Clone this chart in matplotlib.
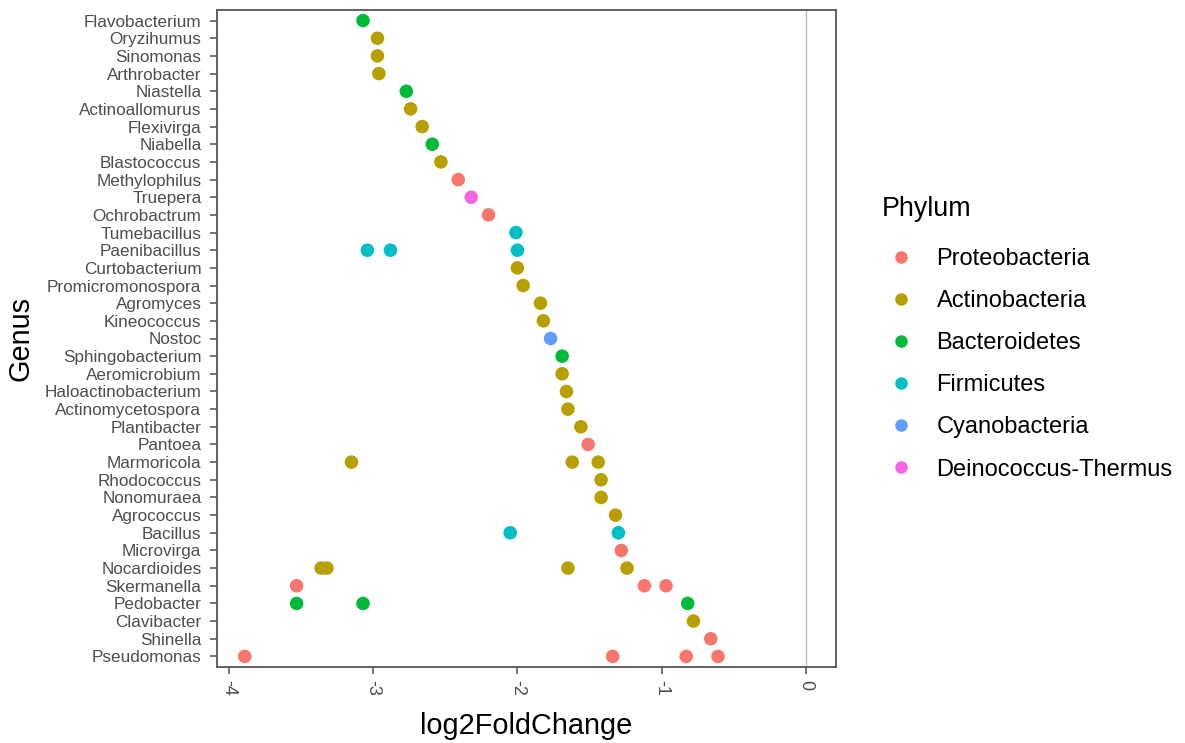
import matplotlib
matplotlib.use("Agg")
import matplotlib.pyplot as plt
from matplotlib.lines import Line2D

plt.rcParams['font.family'] = ['Liberation Sans', 'DejaVu Sans']

# genera, top to bottom as on the y axis
genus = [
    "Flavobacterium", "Oryzihumus", "Sinomonas", "Arthrobacter", "Niastella",
    "Actinoallomurus", "Flexivirga", "Niabella", "Blastococcus", "Methylophilus",
    "Truepera", "Ochrobactrum", "Tumebacillus", "Paenibacillus", "Curtobacterium",
    "Promicromonospora", "Agromyces", "Kineococcus", "Nostoc", "Sphingobacterium",
    "Aeromicrobium", "Haloactinobacterium", "Actinomycetospora", "Plantibacter",
    "Pantoea", "Marmoricola", "Rhodococcus", "Nonomuraea", "Agrococcus", "Bacillus",
    "Microvirga", "Nocardioides", "Skermanella", "Pedobacter", "Clavibacter",
    "Shinella", "Pseudomonas",
]
genus_phylum = [
    "Bacteroidetes", "Actinobacteria", "Actinobacteria", "Actinobacteria", "Bacteroidetes",
    "Actinobacteria", "Actinobacteria", "Bacteroidetes", "Actinobacteria", "Proteobacteria",
    "Deinococcus-Thermus", "Proteobacteria", "Firmicutes", "Firmicutes", "Actinobacteria",
    "Actinobacteria", "Actinobacteria", "Actinobacteria", "Cyanobacteria", "Bacteroidetes",
    "Actinobacteria", "Actinobacteria", "Actinobacteria", "Actinobacteria",
    "Proteobacteria", "Actinobacteria", "Actinobacteria", "Actinobacteria", "Actinobacteria", "Firmicutes",
    "Proteobacteria", "Actinobacteria", "Proteobacteria", "Bacteroidetes", "Actinobacteria",
    "Proteobacteria", "Proteobacteria",
]

# one entry per point (ASV)
pt_genus = [
    "Flavobacterium", "Oryzihumus", "Sinomonas", "Arthrobacter", "Niastella",
    "Actinoallomurus", "Flexivirga", "Niabella", "Blastococcus", "Methylophilus",
    "Truepera", "Ochrobactrum", "Tumebacillus",
    "Paenibacillus", "Paenibacillus", "Paenibacillus",
    "Curtobacterium", "Promicromonospora", "Agromyces", "Kineococcus", "Nostoc",
    "Sphingobacterium", "Aeromicrobium", "Haloactinobacterium", "Actinomycetospora",
    "Plantibacter", "Pantoea",
    "Marmoricola", "Marmoricola", "Marmoricola",
    "Rhodococcus", "Nonomuraea", "Agrococcus",
    "Bacillus", "Bacillus",
    "Microvirga",
    "Nocardioides", "Nocardioides", "Nocardioides", "Nocardioides",
    "Skermanella", "Skermanella", "Skermanella",
    "Pedobacter", "Pedobacter", "Pedobacter",
    "Clavibacter", "Shinella",
    "Pseudomonas", "Pseudomonas", "Pseudomonas", "Pseudomonas",
]
pt_lfc = [
    -3.07, -2.97, -2.97, -2.96, -2.77,
    -2.74, -2.66, -2.59, -2.53, -2.41,
    -2.32, -2.20, -2.01,
    -3.04, -2.88, -2.00,
    -2.00, -1.96, -1.84, -1.82, -1.77,
    -1.69, -1.69, -1.66, -1.65,
    -1.56, -1.51,
    -3.15, -1.62, -1.44,
    -1.42, -1.42, -1.32,
    -2.05, -1.30,
    -1.28,
    -3.36, -3.32, -1.65, -1.24,
    -3.53, -1.12, -0.97,
    -3.53, -3.07, -0.82,
    -0.78, -0.66,
    -3.89, -1.34, -0.83, -0.61,
]

phylum_order = ["Proteobacteria", "Actinobacteria", "Bacteroidetes",
                "Firmicutes", "Cyanobacteria", "Deinococcus-Thermus"]
phylum_colors = ["#F8766D", "#B79F00", "#00BA38", "#00BFC4", "#619CFF", "#F564E3"]
col_of = dict(zip(phylum_order, phylum_colors))
phy_of = dict(zip(genus, genus_phylum))

n = len(genus)
ypos = {g: n - 1 - i for i, g in enumerate(genus)}

fig = plt.figure(figsize=(11.85, 7.43), dpi=100)
ax = fig.add_axes([216.7 / 1185, 1 - 667 / 743, (836 - 216.7) / 1185, (667 - 10) / 743])

ax.axvline(0, color="#bdbdbd", lw=1.0, zorder=1)

xs = pt_lfc
ys = [ypos[g] for g in pt_genus]
cs = [col_of[phy_of[g]] for g in pt_genus]
ax.scatter(xs, ys, c=cs, s=95, linewidths=0, zorder=3)

ax.set_xlim(-4.084, 0.208)
ax.set_ylim(-0.6, n - 0.4)
ax.set_yticks(range(n))
ax.set_yticklabels(genus[::-1], fontsize=12.3, color="#4d4d4d")
ax.set_xticks([-4, -3, -2, -1, 0])
ax.set_xticklabels(["-4", "-3", "-2", "-1", "0"], fontsize=13, color="#4d4d4d",
                   rotation=-90)
ax.tick_params(axis="both", length=5, width=1.1, color="#4d4d4d", pad=4)
ax.tick_params(axis="y", pad=6)

for s in ax.spines.values():
    s.set_color("#555555")
    s.set_linewidth(1.3)

ax.set_xlabel("log2FoldChange", fontsize=20.8, labelpad=12)
ax.set_ylabel("Genus", fontsize=20.8, labelpad=7)

handles = [Line2D([], [], marker="o", ls="", markersize=9, markeredgewidth=0,
                  color=c) for c in phylum_colors]
leg = fig.legend(handles, phylum_order, title="Phylum", loc="upper left",
                 bbox_to_anchor=(870 / 1185, 1 - 184 / 743), frameon=False,
                 fontsize=17, title_fontsize=19.4, labelspacing=0.85,
                 handletextpad=0.7, handlelength=1.62, borderpad=0)
leg._legend_box.align = "left"
leg._legend_box.sep = 19

fig.savefig("out.png", dpi=100)
